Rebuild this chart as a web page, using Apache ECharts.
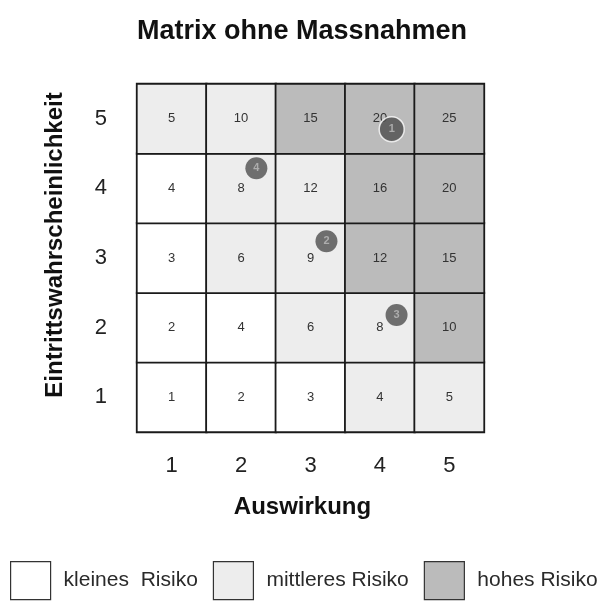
<!DOCTYPE html>
<html>
<head>
<meta charset="utf-8">
<script src="https://cdn.jsdelivr.net/npm/echarts@6/dist/echarts.min.js"></script>
<style>
  html, body { margin: 0; padding: 0; background: #fff; }
  #chart { width: 609px; height: 602px; }
</style>
</head>
<body>
<div id="chart"></div>
<script>
// Achsen
const impactLabels = ['1', '2', '3', '4', '5'];
const likelihoodLabels = ['1', '2', '3', '4', '5'];

// Zellwerte, Zeile = Eintrittswahrscheinlichkeit 1..5
const cellValues = [
    [1, 2, 3, 4, 5],
    [2, 4, 6, 8, 10],
    [3, 6, 9, 12, 15],
    [4, 8, 12, 16, 20],
    [5, 10, 15, 20, 25]
];
// 0 = klein, 1 = mittel, 2 = hoch
const cellLevels = [
    [0, 0, 0, 1, 1],
    [0, 0, 1, 1, 2],
    [0, 1, 1, 2, 2],
    [0, 1, 1, 2, 2],
    [1, 1, 2, 2, 2]
];
const levelNames = ['kleines  Risiko', 'mittleres Risiko', 'hohes Risiko'];
const levelColors = ['#ffffff', '#ededed', '#bbbbbb'];

// Risiken (nummerierte Punkte)
const riskIds = ['1', '2', '3', '4'];
const riskImpact = [4.17, 3.23, 4.24, 2.22];
const riskLikelihood = [4.85, 3.24, 2.18, 4.29];

const font = 'Liberation Sans, Arial, sans-serif';

const heatSeries = levelNames.map((name, lvl) => {
    const data = [];
    cellLevels.forEach((row, y) => {
        row.forEach((l, x) => {
            if (l === lvl) data.push([x, y, cellValues[y][x]]);
        });
    });
    return {
        name: name,
        type: 'heatmap',
        xAxisIndex: 0,
        yAxisIndex: 0,
        data: data,
        itemStyle: { color: levelColors[lvl], borderColor: '#1a1a1a', borderWidth: 1.8 },
        label: { show: true, color: '#333', fontSize: 13, fontFamily: font },
        emphasis: { disabled: true }
    };
});

const chart = echarts.init(document.getElementById('chart'));
chart.setOption({
    backgroundColor: '#fff',
    animation: false,
    title: {
        text: 'Matrix ohne Massnahmen',
        left: 132,
        top: 13,
        textStyle: { fontSize: 27, fontWeight: 'bold', color: '#111', fontFamily: font }
    },
    legend: {
        data: levelNames,
        left: 10,
        right: 0,
        top: 561,
        padding: 0,
        icon: 'rect',
        itemWidth: 40,
        itemHeight: 38,
        itemGap: 15,
        itemStyle: { borderColor: '#333', borderWidth: 1.2 },
        textStyle: { fontSize: 21, color: '#2a2a2a', fontFamily: font, padding: [0, 0, 0, 8] }
    },
    grid: { left: 137, right: 125, top: 84, bottom: 170 },
    xAxis: [{
        type: 'category',
        data: impactLabels,
        name: 'Auswirkung',
        nameLocation: 'middle',
        nameGap: 63,
        nameTextStyle: { fontSize: 24, fontWeight: 'bold', color: '#111', fontFamily: font, padding: [0, 16, 0, 0] },
        axisLine: { show: true, lineStyle: { color: '#1a1a1a', width: 2 } },
        axisTick: { show: false },
        axisLabel: { fontSize: 22, color: '#222', margin: 23, fontFamily: font },
        splitLine: { show: false }
    }, {
        type: 'value', min: 0.5, max: 5.5, show: false
    }],
    yAxis: [{
        type: 'category',
        data: likelihoodLabels,
        name: 'Eintrittswahrscheinlichkeit',
        nameLocation: 'middle',
        nameGap: 70,
        nameRotate: 90,
        nameTextStyle: { fontSize: 24, fontWeight: 'bold', color: '#111', fontFamily: font, padding: [0, 0, 0, 26] },
        axisLine: { show: true, lineStyle: { color: '#1a1a1a', width: 2 } },
        axisTick: { show: false },
        axisLabel: { fontSize: 22, color: '#222', margin: 30, fontFamily: font },
        splitLine: { show: false }
    }, {
        type: 'value', min: 0.5, max: 5.5, show: false
    }],
    series: heatSeries.concat([{
        type: 'scatter',
        xAxisIndex: 1,
        yAxisIndex: 1,
        symbolSize: 22,
        z: 5,
        data: riskIds.map((id, i) => ({
            value: [riskImpact[i], riskLikelihood[i]],
            name: id,
            symbolSize: i === 0 ? 25 : 22,
            itemStyle: i === 0 ? { borderColor: '#fff', borderWidth: 1.5 } : {}
        })),
        itemStyle: { color: '#4d4d4d' },
        label: {
            show: true,
            position: 'inside',
            formatter: p => p.name,
            color: '#bdbdbd',
            fontSize: 11,
            fontWeight: 'bold',
            fontFamily: font
        },
        emphasis: { disabled: true }
    }])
});
</script>
</body>
</html>
